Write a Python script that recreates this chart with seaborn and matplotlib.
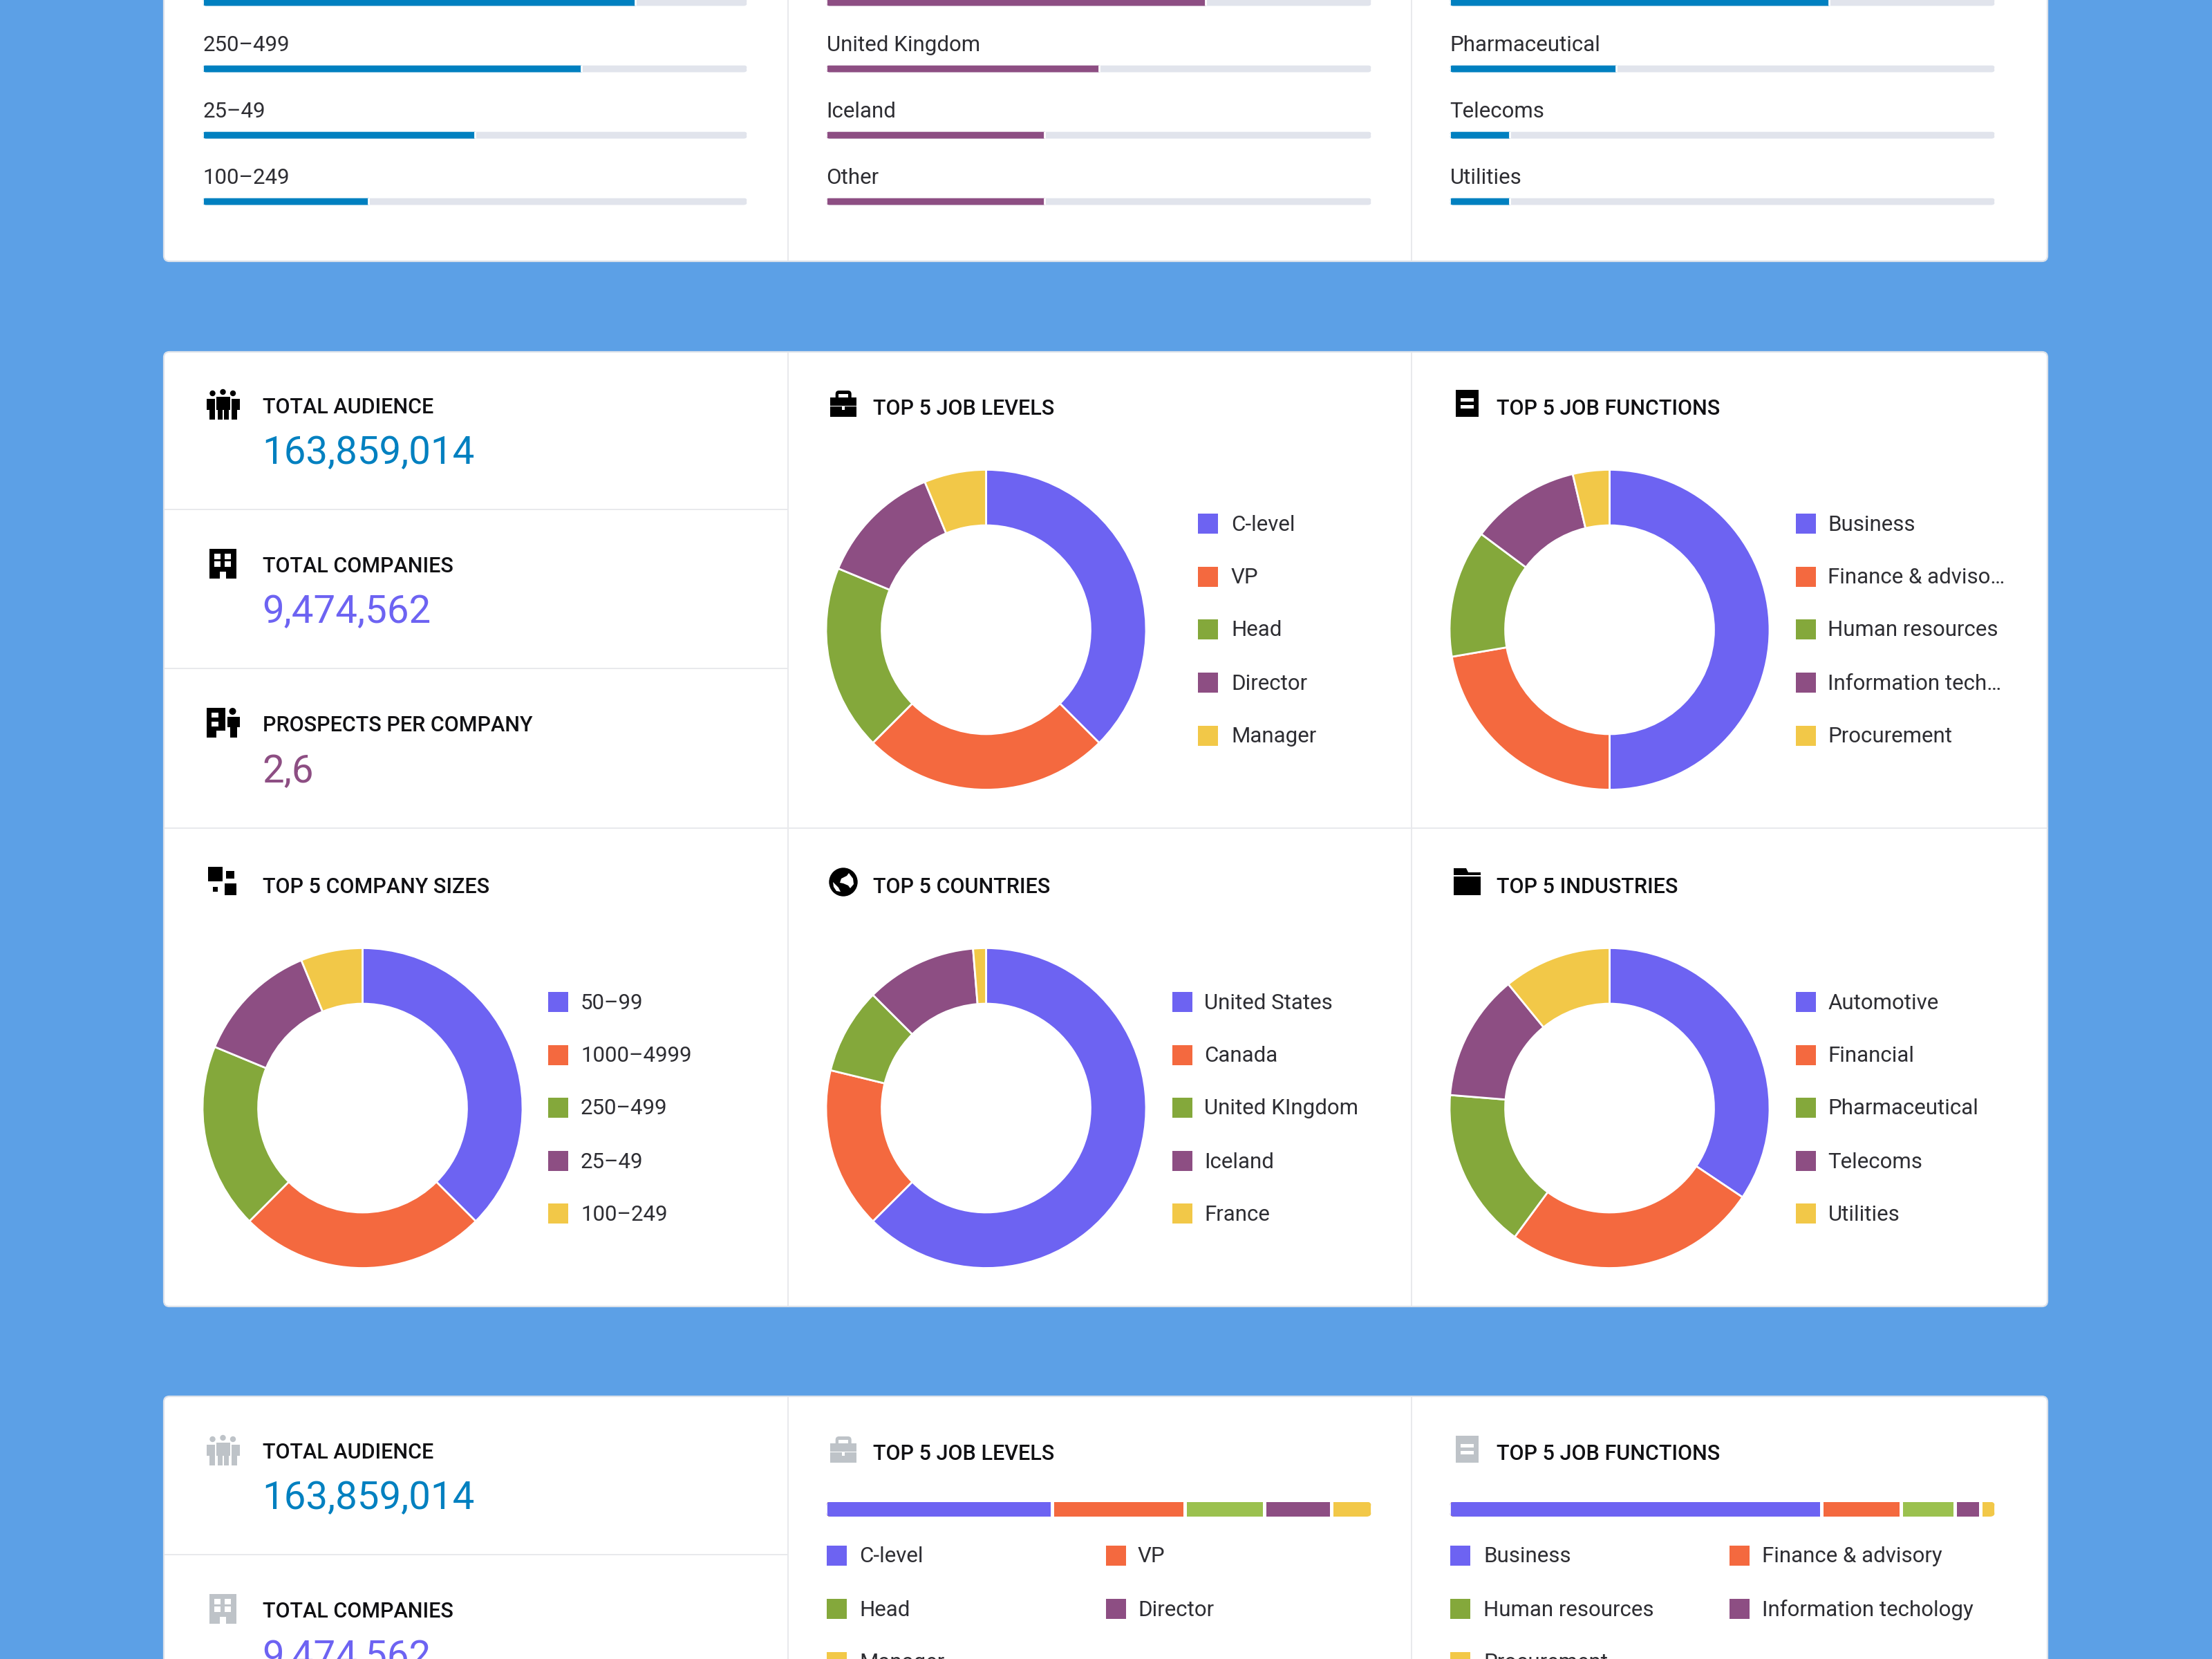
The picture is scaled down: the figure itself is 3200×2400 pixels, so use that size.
import matplotlib
matplotlib.use('Agg')
import matplotlib.pyplot as plt
from matplotlib.patches import Rectangle, Circle, FancyBboxPatch, Polygon
import seaborn as sns

sns.set_theme(style='white')
plt.rcParams['font.family'] = ['Roboto', 'DejaVu Sans']

# palette
BG = '#5CA0E6'
BLUE = '#0080C0'
INDIGO = '#6D63F2'
ORANGE = '#F4693F'
GREEN = '#84A83B'
GREEN_BAR = '#9BC14F'
PURPLE = '#8D4E83'
YELLOW = '#F2C848'
TRACK = '#E1E4EC'
LINE = '#E8E9EC'
TEXT = '#2E2E33'
TITLE = '#111114'
ICON_GREY = '#BEC3C8'
SLICE_COLORS = [INDIGO, ORANGE, GREEN, PURPLE, YELLOW]
STACK_COLORS = [INDIGO, ORANGE, GREEN_BAR, PURPLE, YELLOW]

# top card, cut off by the top edge
size_bar_labels = ['1000–4999', '250–499', '25–49', '100–249']
size_bar_values = [79.5, 69.6, 50, 30.4]
country_bar_labels = ['Canada', 'United Kingdom', 'Iceland', 'Other']
country_bar_values = [69.6, 50, 40, 40]
industry_bar_labels = ['Financial', 'Pharmaceutical', 'Telecoms', 'Utilities']
industry_bar_values = [69.6, 30.6, 11, 11]

# donuts
job_levels = ['C-level', 'VP', 'Head', 'Director', 'Manager']
job_level_shares = [37.5, 25, 18.75, 12.5, 6.25]
job_functions = ['Business', 'Finance & adviso…', 'Human resources', 'Information tech…', 'Procurement']
job_function_shares = [50, 22.3, 12.9, 11.1, 3.7]
company_sizes = ['50–99', '1000–4999', '250–499', '25–49', '100–249']
company_size_shares = [37.5, 25, 18.75, 12.5, 6.25]
countries = ['United States', 'Canada', 'United KIngdom', 'Iceland', 'France']
country_shares = [62.5, 16.3, 8.7, 11.2, 1.3]
industries = ['Automotive', 'Financial', 'Pharmaceutical', 'Telecoms', 'Utilities']
industry_shares = [34.4, 25.7, 16.2, 12.8, 10.9]

# bottom card
stack_job_levels = ['C-level', 'VP', 'Head', 'Director', 'Manager']
stack_job_level_shares = [41.4, 24.4, 14.5, 12.3, 7.4]
stack_job_functions = ['Business', 'Finance & advisory', 'Human resources', 'Information techology', 'Procurement']
stack_job_function_shares = [68.2, 14.6, 9.8, 4.8, 2.6]

audience = '163,859,014'
companies = '9,474,562'
prospects = '2,6'

W, H = 3200, 2400
fig = plt.figure(figsize=(16, 12), dpi=200, facecolor=BG)
bg = fig.add_axes([0, 0, 1, 1])
bg.set_xlim(0, W)
bg.set_ylim(H, 0)
bg.axis('off')


def inset(x0, y0, x1, y1):
    ax = fig.add_axes([x0 / W, 1 - y1 / H, (x1 - x0) / W, (y1 - y0) / H])
    ax.patch.set_alpha(0)
    return ax


def rect(x0, y0, x1, y1, color, z=5):
    bg.add_patch(Rectangle((x0, y0), x1 - x0, y1 - y0, fc=color, ec='none', zorder=z))


def dot(x, y, r, color, z=5):
    bg.add_patch(Circle((x, y), r, fc=color, ec='none', zorder=z))


def round_clip(x0, y0, x1, y1, r):
    return FancyBboxPatch((x0 + r, y0 + r), x1 - x0 - 2 * r, y1 - y0 - 2 * r,
                          boxstyle=f'round,pad={r},rounding_size={r}', transform=bg.transData)


def card(y0, y1):
    bg.add_patch(FancyBboxPatch((245, y0 + 8), 2709, y1 - y0 - 16,
                                boxstyle='round,pad=8,rounding_size=8',
                                fc='white', ec='#DDE2EA', lw=0.8, zorder=1))


def hline(y, x0, x1):
    rect(x0, y - 1, x1, y + 1, LINE, z=2)


def vline(x, y0, y1):
    rect(x - 1, y0, x + 1, y1, LINE, z=2)


def title(x, y, s):
    bg.text(x, y, s, fontsize=11.0, fontweight=500, color=TITLE, va='center_baseline', ha='left', zorder=6)


def big(x, y, s, color):
    bg.text(x, y, s, fontsize=20.3, color=color, va='center_baseline', ha='left', zorder=6)


def swatch(x, y, color, s, text_x):
    rect(x, y - 14.5, x + 29, y + 14.5, color)
    bg.text(text_x, y - 1, s, fontsize=11.25, color=TEXT, va='center_baseline', ha='left', zorder=6)


def icon_people(x, y, c):
    dot(x + 9, y + 6, 4.2, c)
    dot(x + 24, y + 4, 4.2, c)
    dot(x + 38.5, y + 6, 4.2, c)
    rect(x, y + 14, x + 12, y + 30, c)
    rect(x + 4, y + 30, x + 12, y + 44, c)
    rect(x + 36, y + 14, x + 48, y + 30, c)
    rect(x + 36, y + 30, x + 44, y + 44, c)
    rect(x + 14, y + 11, x + 34, y + 30, c)
    rect(x + 16, y + 30, x + 23, y + 44, c)
    rect(x + 25, y + 30, x + 32, y + 44, c)


def icon_building(x, y, c):
    rect(x, y, x + 39, y + 43, c)
    for wx in (7, 22):
        for wy in (7, 18):
            rect(x + wx, y + wy, x + wx + 9, y + wy + 8, 'white', z=6)
    rect(x + 14.5, y + 33, x + 24, y + 43, 'white', z=6)


def icon_prospects(x, y, c):
    rect(x, y, x + 27, y + 43, c)
    rect(x + 7, y + 7, x + 17, y + 14, 'white', z=6)
    rect(x + 7, y + 20, x + 17, y + 27, 'white', z=6)
    rect(x + 14, y + 33, x + 27, y + 43, 'white', z=6)
    rect(x + 21, y + 0, x + 27, y + 30, c, z=7)
    dot(x + 38, y + 5, 5, c)
    rect(x + 30, y + 13, x + 48, y + 28, c)
    rect(x + 34, y + 28, x + 44, y + 43, c)


def icon_briefcase(x, y, c):
    bg.add_patch(FancyBboxPatch((x + 11, y + 3), 17, 12, boxstyle='round,pad=3,rounding_size=5',
                                fc=c, ec='none', zorder=5))
    rect(x + 12.5, y + 4.5, x + 26, y + 12, 'white', z=6)
    rect(x, y + 10, x + 38.6, y + 21.7, c, z=7)
    rect(x, y + 23.3, x + 38.6, y + 38.3, c, z=7)
    rect(x + 17.3, y + 23.3, x + 21.3, y + 28, 'white', z=8)


def icon_doc(x, y, c):
    rect(x, y, x + 33, y + 39, c)
    rect(x + 7, y + 12, x + 26, y + 17, 'white', z=6)
    rect(x + 7, y + 22, x + 26, y + 27, 'white', z=6)


def icon_sizes(x, y, c):
    rect(x, y, x + 21, y + 21, c)
    rect(x + 26, y + 6, x + 38, y + 17, c)
    rect(x + 7, y + 29, x + 14, y + 36, c)
    rect(x + 24, y + 24, x + 41, y + 41, c)


def icon_globe(x, y, c):
    dot(x, y, 20.7, c)
    land = [(-3, -5), (5, -9), (8, -13), (14, -5), (15, 3), (10, 9), (7, 5), (0, 2), (-5, 1)]
    coast = [(-15, 0), (-7, 8), (-4, 14), (-10, 13), (-14, 7)]
    for shape in (land, coast):
        bg.add_patch(Polygon([(x + a, y + b) for a, b in shape], fc='white', ec='none', zorder=6))


def icon_folder(x, y, c):
    bg.add_patch(Polygon([(x, y), (x + 18, y), (x + 21, y + 6), (x + 39, y + 6), (x + 39, y + 10), (x, y + 10)],
                         fc=c, ec='none', zorder=5))
    rect(x, y + 12, x + 39, y + 39, c)


def progress(x0, x1, labels, values, color):
    rows = [3.5, 99.5, 195.5, 291.5]
    ax = inset(x0, rows[0] - 48, x1, rows[-1] + 48)
    sns.barplot(x=[100] * len(labels), y=labels, color=TRACK, saturation=1, width=0.14, ax=ax)
    sns.barplot(x=values, y=labels, color=color, saturation=1, width=0.14, ax=ax)
    ax.set_xlim(0, 100)
    ax.axis('off')
    for bar, row in zip(ax.patches, rows + rows):
        bar.set_clip_path(round_clip(x0, row - 5, x1, row + 5, 5))
    for s, row in zip(labels, rows):
        if row - 37 > 0:
            bg.text(x0 + 0.5, row - 37, s, fontsize=11.25, color=TEXT, va='center_baseline', ha='left', zorder=6)


def donut(cx, cy, shares, labels, swatch_x, text_x, legend_y):
    r = 231.5
    ax = inset(cx - r, cy - r, cx + r, cy + r)
    ax.pie(shares, colors=SLICE_COLORS, startangle=90, counterclock=False, radius=1,
           wedgeprops=dict(width=0.348, edgecolor='white', linewidth=1.0))
    ax.set_xlim(-1, 1)
    ax.set_ylim(-1, 1)
    for s, color, y in zip(labels, SLICE_COLORS, legend_y):
        swatch(swatch_x, y, color, s, text_x)


def stacked(x0, x1, y0, y1, shares, labels, col_x, col_text_x, row_y):
    ax = inset(x0, y0, x1, y1)
    totals = [sum(shares[:i + 1]) for i in range(len(shares))]
    # biggest running total goes first, the rest paint over it
    for total, color in zip(totals[::-1], STACK_COLORS[::-1]):
        sns.barplot(x=[total], y=['all'], color=color, saturation=1, width=1.6, ax=ax)
    for total in totals[:-1]:
        ax.axvline(total, color='white', lw=1.8)
    ax.set_xlim(0, 100)
    ax.set_ylim(0.5, -0.5)
    ax.axis('off')
    for bar in ax.patches:
        bar.set_clip_path(round_clip(x0, y0, x1, y1, 7))
    for i, (s, color) in enumerate(zip(labels, SLICE_COLORS)):
        swatch(col_x[i % 2], row_y[i // 2], color, s, col_text_x[i % 2])


# cards
card(-40, 378)
card(509, 1890)
card(2020, 2460)

vline(1140, 0, 377)
vline(2042, 0, 377)
vline(1140, 510, 1889)
vline(2042, 510, 1889)
vline(1140, 2021, H)
vline(2042, 2021, H)
hline(737, 238, 1140)
hline(967, 238, 1140)
hline(1198, 238, 2961)
hline(2249, 238, 1140)

# top card bars
progress(293, 1081, size_bar_labels, size_bar_values, BLUE)
progress(1195, 1984, country_bar_labels, country_bar_values, PURPLE)
progress(2097, 2886, industry_bar_labels, industry_bar_values, BLUE)

# middle card
icon_people(298.5, 563, 'black')
title(379.5, 586, 'TOTAL AUDIENCE')
big(379.5, 650, audience, BLUE)
icon_building(303, 794, 'black')
title(379.5, 817, 'TOTAL COMPANIES')
big(379.5, 880, companies, INDIGO)
icon_prospects(298.5, 1024, 'black')
title(379.5, 1047, 'PROSPECTS PER COMPANY')
big(379.5, 1111, prospects, PURPLE)

top_rows = [757, 834, 910, 987, 1064]
low_rows = [1449, 1526, 1602, 1679, 1755]

icon_briefcase(1200.7, 565, 'black')
title(1263, 588, 'TOP 5 JOB LEVELS')
donut(1426.5, 911, job_level_shares, job_levels, 1733, 1781, top_rows)

icon_doc(2106, 564, 'black')
title(2165, 588, 'TOP 5 JOB FUNCTIONS')
donut(2328.5, 911, job_function_shares, job_functions, 2598, 2644.5, top_rows)

icon_sizes(301, 1254, 'black')
title(379.5, 1280, 'TOP 5 COMPANY SIZES')
donut(524.5, 1603, company_size_shares, company_sizes, 793, 840, low_rows)

icon_globe(1220, 1276, 'black')
title(1263, 1280, 'TOP 5 COUNTRIES')
donut(1426.5, 1603, country_shares, countries, 1696, 1742.5, low_rows)

icon_folder(2103, 1256, 'black')
title(2165, 1280, 'TOP 5 INDUSTRIES')
donut(2328.5, 1603, industry_shares, industries, 2598, 2644.5, low_rows)

# bottom card
icon_people(298.5, 2076, ICON_GREY)
title(379.5, 2098, 'TOTAL AUDIENCE')
big(379.5, 2162, audience, BLUE)
icon_building(303, 2306, ICON_GREY)
title(379.5, 2329, 'TOTAL COMPANIES')
big(379.5, 2392, companies, INDIGO)

icon_briefcase(1200.7, 2078, ICON_GREY)
title(1263, 2101, 'TOP 5 JOB LEVELS')
stacked(1195, 1984, 2172.5, 2194, stack_job_level_shares, stack_job_levels,
        [1196, 1600], [1243, 1646], [2250, 2327, 2404])

icon_doc(2106, 2077, ICON_GREY)
title(2165, 2101, 'TOP 5 JOB FUNCTIONS')
stacked(2097, 2886, 2172.5, 2194, stack_job_function_shares, stack_job_functions,
        [2098, 2502], [2146, 2549], [2250, 2327, 2404])

fig.savefig('out.png', dpi=200, facecolor=BG)
